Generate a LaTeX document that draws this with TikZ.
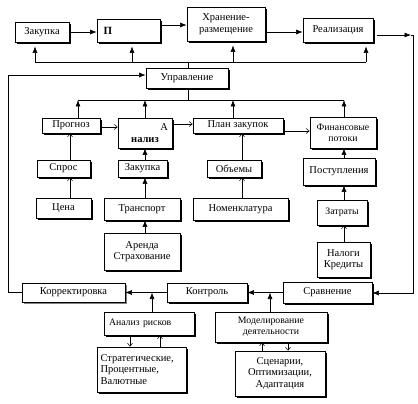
\documentclass[tikz,border=0pt]{standalone}
\usepackage{fontspec}
\setmainfont{Liberation Serif}
\usetikzlibrary{arrows.meta,shadows}
\newcommand\fsn{\fontsize{10.5}{11.5}\selectfont}
\newcommand\fss{\fontsize{9.8}{10.8}\selectfont}
\tikzset{
  basebox/.style={draw, line width=0.8pt, fill=white, inner sep=1pt, font=\fsn, align=center},
  box/.style={basebox, drop shadow={shadow xshift=1.6pt, shadow yshift=-1.6pt, fill=black, opacity=1}},
  gbox/.style={basebox, drop shadow={shadow xshift=1.6pt, shadow yshift=-1.6pt, fill=gray, opacity=1}},
  sz/.style 2 args={minimum width=#1pt, minimum height=#2pt},
  small/.style={font=\fss},
  ln/.style={line width=0.6pt},
  farr/.style={ln, -{Latex[length=6.5pt,width=5pt]}},
  oarr/.style={line width=0.5pt, -{Straight Barb[length=3pt,width=5pt]}}
}
\begin{document}
\begin{tikzpicture}[x=1pt,y=-1pt]
\useasboundingbox (0,0) rectangle (418,404);
% nodes
\node[box,sz={54}{20}] (zak1) at (42,32) {Закупка};
\node[box,sz={63}{23},text width=50pt,align=left,font=\bfseries\fontsize{11}{12}\selectfont] (p) at (128.5,30.5) {П};
\node[box,sz={78}{34}] (xr) at (226,24) {Хранение-\\размещение};
\node[box,sz={70}{24}] (real) at (338,30) {Реализация};
\node[box,sz={82}{20}] (upr) at (187,78) {Управление};
\node[box,sz={58}{15}] (prog) at (71,125.5) {Прогноз};
\node[box,sz={54}{30},text width=46pt] (anal) at (145,133) {\hfill А\\\textbf{нализ}};
\node[box,sz={90}{15}] (plan) at (238,125.5) {План закупок};
\node[box,sz={66}{31},small] (fin) at (343,132.5) {Финансовые\\потоки};
\node[box,sz={53}{17}] (spros) at (63.5,168.5) {Спрос};
\node[box,sz={49}{17}] (zak2) at (142.5,168.5) {Закупка};
\node[box,sz={54}{17}] (obem) at (234,168.5) {Объемы};
\node[box,sz={72}{27}] (post) at (339,171.5) {Поступления};
\node[box,sz={55}{20}] (cena) at (63.5,208) {Цена};
\node[box,sz={76}{22}] (trans) at (142,209) {Транспорт};
\node[box,sz={95}{22}] (nom) at (240.5,209) {Номенклатура};
\node[box,sz={50}{25},small] (zatr) at (342,212.5) {Затраты};
\node[box,sz={76}{37}] (arenda) at (142,251.5) {Аренда\\Страхование};
\node[box,sz={53}{35}] (nalog) at (343.5,259.5) {Налоги\\Кредиты};
\node[gbox,sz={103}{19}] (korr) at (73.5,292.5) {Корректировка};
\node[box,sz={80}{19}] (kontr) at (207,292.5) {Контроль};
\node[box,sz={89}{21}] (srav) at (327.5,292.5) {Сравнение};
\node[box,sz={90}{23},small,text width=80pt,align=left] (risk) at (149,323.5) {Анализ рисков};
\node[box,sz={112}{30},small] (model) at (271,327) {Моделирование\\деятельности};
\node[box,sz={89}{45},text width=82pt,align=left] (strat) at (141.5,369.5) {Стратегические,\\Процентные,\\Валютные};
\node[box,sz={90}{45}] (scen) at (280,373.5) {Сценарии,\\Оптимизации,\\Адаптация};
% coordinates
\coordinate (y25) at (0,25);
\coordinate (rt1) at (411,35);
\coordinate (rt2) at (413,35);
\coordinate (rb) at (413,293);
\coordinate (f1) at (35,62);
\coordinate (f2) at (132,62);
\coordinate (f3) at (233,62);
\coordinate (f4) at (366,62);
\coordinate (fu) at (188,62);
\coordinate (l1) at (8,292.5);
\coordinate (l2) at (8,75);
\coordinate (g1) at (78,100);
\coordinate (g2) at (145,100);
\coordinate (g3) at (233,100);
\coordinate (g4) at (344,100);
\coordinate (gu) at (188,100);
\coordinate (ya) at (0,127);
\coordinate (yb) at (0,124);
\coordinate (yc) at (0,131);
\coordinate (c1) at (70,0);
\coordinate (c2) at (145,0);
\coordinate (c3) at (242,0);
\coordinate (c4) at (344,0);
\coordinate (r1) at (152,292.5);
\coordinate (m1) at (270,292.5);
\coordinate (s1) at (130,0);
\coordinate (s2) at (160,0);
\coordinate (s3) at (262,0);
\coordinate (s4) at (288,0);
% top row
\draw[farr] (zak1.east) -- (p.west |- zak1.east);
\draw[farr] (p.east |- y25) -- (xr.west |- y25);
\draw[farr] (xr.east |- zak1.east) -- (real.west |- zak1.east);
\draw[farr,shorten <=4pt] (real.east |- rt1) -- (rt1);
\draw[farr] (rt1) -- (rt2) -- (rb) -- (srav.east |- rb);
% feedback to top row
\draw[ln] (f1) -- (f4);
\draw[ln] (upr.north -| fu) -- (fu);
\draw[farr,shorten >=4pt] (f1) -- (zak1.south -| f1);
\draw[farr,shorten >=4pt] (f2) -- (p.south -| f2);
\draw[farr,shorten >=4pt] (f3) -- (xr.south -| f3);
\draw[farr,shorten >=4pt] (f4) -- (real.south -| f4);
% left loop
\draw[farr] (korr.west) -- (l1) -- (l2) -- (upr.west |- l2);
% below management
\draw[ln] (upr.south -| gu) -- (gu);
\draw[ln] (g1) -- (g4);
\draw[farr] (prog.north -| g1) -- (g1);
\draw[farr] (anal.north -| g2) -- (g2);
\draw[farr] (plan.north -| g3) -- (g3);
\draw[farr] (fin.north -| g4) -- (g4);
% second row links
\draw[oarr] (prog.east |- ya) -- (anal.west |- ya);
\draw[oarr] (anal.east |- yb) -- (plan.west |- yb);
\draw[oarr] (plan.east |- yc) -- (fin.west |- yc);
% columns
\draw[oarr] (spros.north -| c1) -- (prog.south -| c1);
\draw[farr] (zak2.north -| c2) -- (anal.south -| c2);
\draw[oarr] (obem.north -| c3) -- (plan.south -| c3);
\draw[farr] (post.north -| c4) -- (fin.south -| c4);
\draw[oarr] (cena.north -| c1) -- (spros.south -| c1);
\draw[farr] (trans.north -| c2) -- (zak2.south -| c2);
\draw[oarr] (nom.north -| c3) -- (obem.south -| c3);
\draw[farr] (zatr.north -| c4) -- (post.south -| c4);
\draw[farr] (arenda.north -| c2) -- (trans.south -| c2);
\draw[oarr] (nalog.north -| c4) -- (zatr.south -| c4);
% bottom
\draw[farr] (kontr.west) -- (korr.east |- kontr.west);
\draw[farr] (srav.west |- kontr.east) -- (kontr.east);
\draw[farr] (risk.north -| r1) -- (r1);
\draw[farr] (model.north -| m1) -- (m1);
\draw[oarr] (risk.south -| s1) -- (strat.north -| s1);
\draw[oarr] (strat.north -| s2) -- (risk.south -| s2);
\draw[oarr] (scen.north -| s3) -- (model.south -| s3);
\draw[oarr] (model.south -| s4) -- (scen.north -| s4);
\end{tikzpicture}
\end{document}
